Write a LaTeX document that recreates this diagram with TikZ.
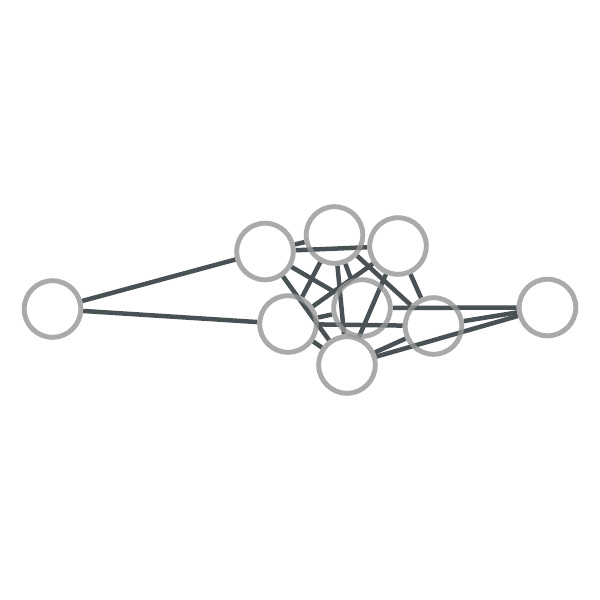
\documentclass[tikz,border=0pt]{standalone}
\usepackage{xcolor}
\usepackage{tikz}
\usetikzlibrary{backgrounds}
\definecolor{ringgray}{HTML}{959595}
\definecolor{edgegray}{HTML}{4A5155}
\tikzset{edge/.style = {draw=edgegray, line width=3.2pt}}

\begin{document}
\begin{tikzpicture}[x=0.025cm,y=-0.025cm,main node/.style={circle,draw=ringgray,draw opacity=0.8,line width=3.5pt,minimum size=1.415cm,inner sep=0pt}]
                \useasboundingbox (0,0) rectangle (600,600);
                \node[main node] (1) at (52.5,309) {};
                \node[main node] (2) at (265,251.5) {};
                \node[main node] (3) at (334.5,235) {};
                \node[main node] (4) at (398,246) {};
                \node[main node] (5) at (288,324) {};
                \node[main node] (6) at (362,308) {};
                \node[main node] (7) at (433.5,326) {};
                \node[main node] (8) at (347,365) {};
                \node[main node] (9) at (547.5,307.5) {};

                \begin{scope}[on background layer]
                \path[every edge/.style={edge}]
                    (1) edge (2)
                    (1) edge (5)
                    (2) edge (3)
                    (2) edge (4)
                    (2) edge (6)
                    (2) edge (8)
                    (3) edge (5)
                    (3) edge (6)
                    (3) edge (8)
                    (3) edge (7)
                    (4) edge (5)
                    (4) edge (8)
                    (4) edge (7)
                    (5) edge (6)
                    (5) edge (7)
                    (5) edge (8)
                    (6) edge (9)
                    (7) edge (9)
                    (8) edge (7)
                    (8) edge (9)
                    ;
                \end{scope}
            \end{tikzpicture}
\end{document}
